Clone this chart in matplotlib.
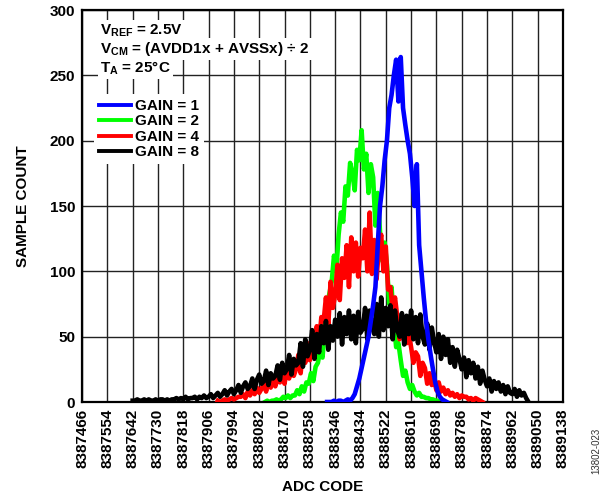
import numpy as np
import matplotlib
matplotlib.use("Agg")
import matplotlib.pyplot as plt

plt.rcParams['font.family'] = ['Liberation Sans', 'DejaVu Sans']
plt.rcParams['mathtext.fontset'] = 'custom'
plt.rcParams['mathtext.rm'] = 'Liberation Sans:bold'
plt.rcParams['mathtext.it'] = 'Liberation Sans:bold'
plt.rcParams['mathtext.bf'] = 'Liberation Sans:bold'

code_step = 8

gain1_start = 8388318
gain1_counts = [0, 0, 0, 1, 0, 1, 1, 0, 1, 2, 1, 3, 6, 12, 18, 26, 34, 42, 50, 62,
                74, 88, 120, 150, 165, 185, 200, 225, 235, 250, 262, 230, 264, 225,
                212, 200, 190, 172, 150, 182, 120, 100, 80, 62, 48, 36, 25, 15, 8, 4,
                2, 1, 0]

gain2_start = 8388102
gain2_counts = [0, 1, 0, 1, 1, 2, 1,
                2, 4, 3, 5, 3, 5,
                5, 9, 6, 12, 8, 15,
                14, 22, 16, 27,
                30, 40, 34,
                55, 75, 83,
                92, 112, 100,
                128, 145, 138,
                165, 158, 183,
                175, 162, 193,
                185, 208, 178,
                190, 160, 182,
                172, 135, 160,
                130, 108, 122,
                105, 75, 88,
                62, 42, 45,
                32, 20, 24,
                15, 10, 13,
                8, 5, 7, 4,
                4, 3, 3, 2,
                2, 1, 1, 0]

gain4_start = 8387938
gain4_counts = [1, 0, 1, 2, 1, 2, 3, 2, 3, 4,
                4, 6, 3, 8, 5, 9, 6, 11, 7,
                10, 14, 8, 16, 11, 18, 12, 19,
                15, 22, 14, 25, 18, 27, 20,
                25, 36, 22, 40, 30, 45,
                32, 50, 36, 58, 45, 65,
                62, 80, 58, 92, 72,
                82, 105, 78, 110,
                95, 120, 88, 126,
                100, 122, 96, 118,
                110, 132, 100, 145,
                98, 124, 94, 118,
                128, 100, 119, 86,
                88, 70, 80,
                65, 48, 62,
                60, 45, 52,
                42, 30, 38,
                35, 20, 30,
                26, 14, 22, 13,
                17, 9, 15, 8,
                11, 6, 9, 5,
                7, 4, 6, 3, 5, 4,
                4, 2, 3, 1, 3, 2, 1, 0]

gain8_start = 8387642
gain8_counts = [1, 1, 2, 1, 1, 2, 1, 2, 1, 1, 2, 1, 2, 2, 1, 2, 1, 2, 2, 3,
                2, 3, 2, 4, 2, 3, 3, 4, 2, 4, 3, 5, 3,
                4, 6, 3, 5, 7, 4,
                6, 9, 5, 8, 10, 6,
                9, 13, 7, 12, 15, 10,
                12, 18, 10, 17, 21, 14,
                16, 24, 13, 22, 18,
                20, 28, 17, 30, 22,
                25, 36, 21, 33, 28,
                30, 45, 27, 48, 35,
                40, 55, 33, 52, 38, 58,
                45, 62, 40, 58, 47, 63,
                50, 68, 44, 65, 52, 70,
                48, 66, 45, 69, 53,
                56, 72, 48, 70, 58,
                52, 75, 50, 80, 55, 72,
                58, 74, 48, 70, 55,
                50, 68, 44, 66, 52, 70,
                48, 65, 45, 67, 50,
                44, 60, 40, 57, 46,
                38, 52, 33, 50, 36, 48,
                30, 42, 27, 40, 33,
                25, 34, 19, 32, 22, 30,
                18, 27, 14, 24, 17,
                12, 18, 8, 16, 10, 15,
                8, 13, 6, 12, 7,
                6, 10, 4, 9, 5,
                7, 3, 0]

series = [
    ("GAIN = 1", gain1_start, gain1_counts, "#0000ff", 5),
    ("GAIN = 2", gain2_start, gain2_counts, "#00ff00", 2),
    ("GAIN = 4", gain4_start, gain4_counts, "#ff0000", 3),
    ("GAIN = 8", gain8_start, gain8_counts, "#000000", 4),
]

xticks = list(range(8387466, 8389138 + 1, 88))
yticks = [0, 50, 100, 150, 200, 250, 300]

fig = plt.figure(figsize=(6.13, 5.01), dpi=100)
ax = fig.add_axes([0.1338, 0.1976, 0.7846, 0.7824])

for name, start, counts, col, z in series:
    codes = start + code_step * np.arange(len(counts))
    ax.plot(codes, counts, color=col, lw=3.3, label=name, zorder=z)

ax.set_xlim(xticks[0], xticks[-1])
ax.set_ylim(0, 300)
ax.set_xticks(xticks)
ax.set_xticklabels([str(t) for t in xticks], rotation=90, fontsize=11, fontweight='bold')
ax.set_yticks(yticks)
ax.set_yticklabels([str(t) for t in yticks], fontsize=11, fontweight='bold')
ax.tick_params(length=0, pad=5)
ax.grid(True, color='#222222', lw=1.0)
ax.set_axisbelow(True)
for s in ax.spines.values():
    s.set_linewidth(1.6)

ax.set_xlabel("ADC CODE", fontsize=11, fontweight='bold', labelpad=8)
ax.set_ylabel("SAMPLE COUNT", fontsize=11, fontweight='bold', labelpad=14)

box = dict(facecolor='white', edgecolor='none', pad=1.5)
ax.text(0.038, 0.948, r"V$_{\mathrm{REF}}$ = 2.5V", transform=ax.transAxes,
        fontsize=11, fontweight='bold', va='center', bbox=box, zorder=10)
ax.text(0.038, 0.900, r"V$_{\mathrm{CM}}$ = (AVDD1x + AVSSx) ÷ 2", transform=ax.transAxes,
        fontsize=11, fontweight='bold', va='center', bbox=box, zorder=10)
ax.text(0.038, 0.852, r"T$_{\mathrm{A}}$ = 25°C", transform=ax.transAxes,
        fontsize=11, fontweight='bold', va='center', bbox=box, zorder=10)

leg = ax.legend(loc='upper left', bbox_to_anchor=(0.025, 0.785), frameon=True,
                fancybox=False, edgecolor='none', facecolor='white', framealpha=1,
                prop={'weight': 'bold', 'size': 11}, handlelength=2.1,
                handletextpad=0.3, labelspacing=0.1, borderpad=0.3,
                borderaxespad=0)
leg.set_zorder(10)
for ln in leg.get_lines():
    ln.set_linewidth(2.8)

fig.text(0.973, 0.10, "13802-023", rotation=90, fontsize=7, color='#333333',
         ha='center', va='center')

fig.savefig("out.png", dpi=100)
